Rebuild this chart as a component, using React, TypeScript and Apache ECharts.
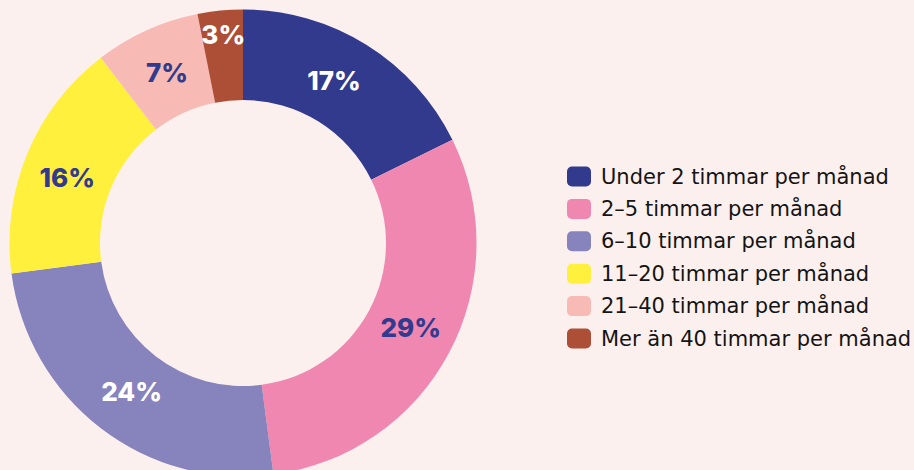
import React, { useEffect, useRef } from "react";
import * as echarts from "echarts";

const categories = [
  "Under 2 timmar per månad",
  "2–5 timmar per månad",
  "6–10 timmar per månad",
  "11–20 timmar per månad",
  "21–40 timmar per månad",
  "Mer än 40 timmar per månad",
];
const values = [17, 29, 24, 16, 7, 3];
const colors = ["#323a8e", "#f087b0", "#8783bc", "#fff03d", "#f7bab4", "#ad4f36"];
const labelColors = ["#ffffff", "#323a8e", "#ffffff", "#323a8e", "#323a8e", "#ffffff"];
const labelOffsets = [[-10, 0], [-1, -6], [5, -3], [1, 8], [3, 4], [-1, -18]];

export default function App() {
  const ref = useRef<HTMLDivElement>(null);
  useEffect(() => {
    if (!ref.current) return;
    const chart = echarts.init(ref.current, null, { renderer: "svg" });
    chart.setOption({
      animation: false,
      backgroundColor: "#fcf0ef",
      legend: {
        orient: "vertical",
        left: 562,
        top: 161,
        itemWidth: 24,
        itemHeight: 20,
        itemGap: 11.4,
        icon: "roundRect",
        selectedMode: false,
        textStyle: {
          fontFamily: "DejaVu Sans",
          fontSize: 21,
          color: "#141414",
          lineHeight: 20,
          padding: [0, 0, 0, 5],
        },
        data: categories,
      },
      series: [
        {
          type: "pie",
          center: [243, 243],
          radius: [143, 233.5],
          startAngle: 90,
          clockwise: true,
          avoidLabelOverlap: false,
          silent: true,
          label: {
            show: true,
            position: "inside",
            formatter: "{c}%",
            fontFamily: "Inter",
            fontWeight: 800,
            fontSize: 26,
          },
          labelLine: { show: false },
          data: categories.map((name, i) => ({
            name,
            value: values[i],
            itemStyle: { color: colors[i] },
            label: {
              color: labelColors[i],
              offset: labelOffsets[i],
            },
          })),
        },
      ],
    });
    return () => chart.dispose();
  }, []);
  return (
    <div
      ref={ref}
      style={{ position: "fixed", left: 0, top: 0, width: 914, height: 470 }}
    />
  );
}
